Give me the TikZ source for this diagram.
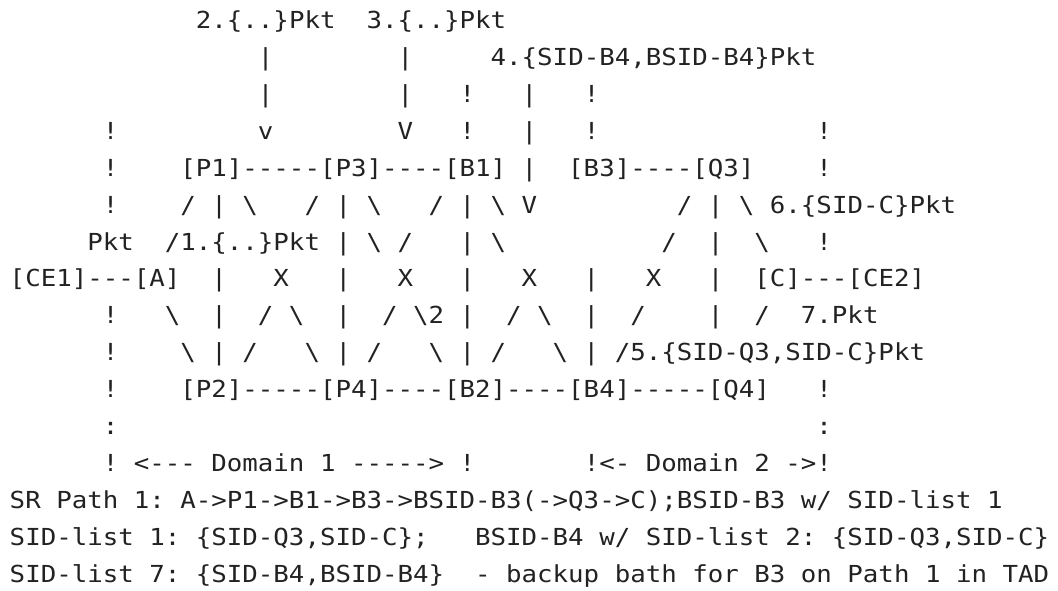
\documentclass[tikz,border=0pt]{standalone}
\usepackage{fontspec}
\setmonofont[FakeStretch=1.1]{DejaVu Sans Mono}
\definecolor{ink}{RGB}{34,34,34}
\newcommand\SP[1]{\hskip#1\fontcharwd\font`x\relax}
\newcommand\bsl{\textbackslash}
\begin{document}
\begin{tikzpicture}[x=0.75pt,y=-0.75pt,
  asc/.style={anchor=base west,inner sep=0pt,outer sep=0pt,text=ink,
    font=\ttfamily\fontsize{17.57pt}{20pt}\selectfont}]
\fill[white] (0,0) rectangle (1058,590);
\useasboundingbox (0,0) rectangle (1058,590);
\def\xo{9.75}
\node[asc] (l1) at (\xo,28.5) {\SP{12}2.\{..\}Pkt\SP{2}3.\{..\}Pkt};
\node[asc] (l2) at (\xo,65.42) {\SP{16}|\SP{8}|\SP{5}4.\{SID-B4,BSID-B4\}Pkt};
\node[asc] (l3) at (\xo,102.34) {\SP{16}|\SP{8}|\SP{3}!\SP{3}|\SP{3}!};
\node[asc] (l4) at (\xo,139.26) {\SP{6}!\SP{9}v\SP{8}V\SP{3}!\SP{3}|\SP{3}!\SP{14}!};
\node[asc] (l5) at (\xo,176.18) {\SP{6}!\SP{4}[P1]-----[P3]----[B1]\SP{1}|\SP{2}[B3]----[Q3]\SP{4}!};
\node[asc] (l6) at (\xo,213.1) {\SP{6}!\SP{4}/\SP{1}|\SP{1}\bsl\SP{3}/\SP{1}|\SP{1}\bsl\SP{3}/\SP{1}|\SP{1}\bsl\SP{1}V\SP{9}/\SP{1}|\SP{1}\bsl\SP{1}6.\{SID-C\}Pkt};
\node[asc] (l7) at (\xo,250.02) {\SP{5}Pkt\SP{2}/1.\{..\}Pkt\SP{1}|\SP{1}\bsl\SP{1}/\SP{3}|\SP{1}\bsl\SP{10}/\SP{2}|\SP{2}\bsl\SP{3}!};
\node[asc] (l8) at (\xo,286.94) {[CE1]---[A]\SP{2}|\SP{3}X\SP{3}|\SP{3}X\SP{3}|\SP{3}X\SP{3}|\SP{3}X\SP{3}|\SP{2}[C]---[CE2]};
\node[asc] (l9) at (\xo,323.86) {\SP{6}!\SP{3}\bsl\SP{2}|\SP{2}/\SP{1}\bsl\SP{2}|\SP{2}/\SP{1}\bsl2\SP{1}|\SP{2}/\SP{1}\bsl\SP{2}|\SP{2}/\SP{4}|\SP{2}/\SP{2}7.Pkt};
\node[asc] (l10) at (\xo,360.78) {\SP{6}!\SP{4}\bsl\SP{1}|\SP{1}/\SP{3}\bsl\SP{1}|\SP{1}/\SP{3}\bsl\SP{1}|\SP{1}/\SP{3}\bsl\SP{1}|\SP{1}/5.\{SID-Q3,SID-C\}Pkt};
\node[asc] (l11) at (\xo,397.7) {\SP{6}!\SP{4}[P2]-----[P4]----[B2]----[B4]-----[Q4]\SP{3}!};
\node[asc] (l12) at (\xo,434.62) {\SP{6}:\SP{45}:};
\node[asc] (l13) at (\xo,471.54) {\SP{6}!\SP{1}<---\SP{1}Domain\SP{1}1\SP{1}----->\SP{1}!\SP{7}!<-\SP{1}Domain\SP{1}2\SP{1}->!};
\node[asc] (l14) at (\xo,508.46) {SR\SP{1}Path\SP{1}1:\SP{1}A->P1->B1->B3->BSID-B3(->Q3->C);BSID-B3\SP{1}w/\SP{1}SID-list\SP{1}1};
\node[asc] (l15) at (\xo,545.38) {SID-list\SP{1}1:\SP{1}\{SID-Q3,SID-C\};\SP{3}BSID-B4\SP{1}w/\SP{1}SID-list\SP{1}2:\SP{1}\{SID-Q3,SID-C\}};
\node[asc] (l16) at (\xo,582.3) {SID-list\SP{1}7:\SP{1}\{SID-B4,BSID-B4\}\SP{2}-\SP{1}backup\SP{1}bath\SP{1}for\SP{1}B3\SP{1}on\SP{1}Path\SP{1}1\SP{1}in\SP{1}TAD};
\end{tikzpicture}
\end{document}
